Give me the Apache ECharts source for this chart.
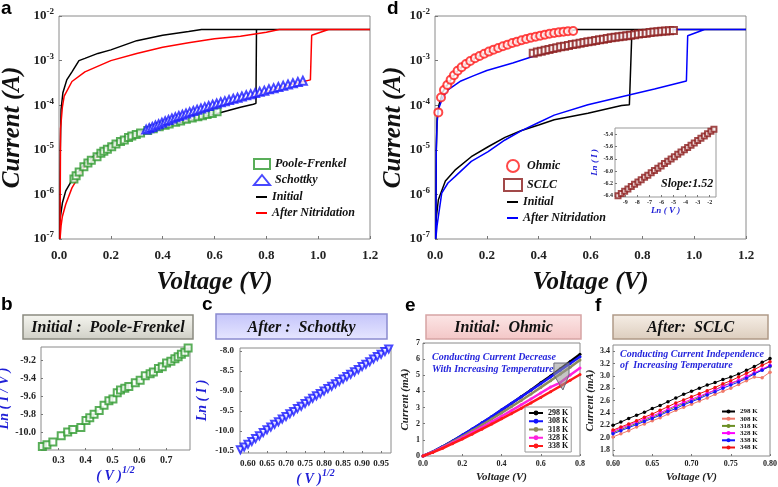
<!DOCTYPE html>
<html><head><meta charset="utf-8">
<script src="https://cdn.jsdelivr.net/npm/echarts@6/dist/echarts.min.js"></script>
<style>html,body{margin:0;padding:0;background:#fff}#c{width:778px;height:487px}</style>
</head><body><div id="c"></div>
<script>
// ================= DATA =================
// Panel a : Initial (black) I-V loop
const initV = [0.003,0.005,0.013,0.026,0.05,0.1,0.15,0.2,0.25,0.3,0.35,0.4,0.45,0.5,0.55,0.6,0.65,0.7,0.75,0.76,0.762,1.2,0.55,0.5,0.4,0.3,0.2,0.15,0.1,0.077,0.05,0.03,0.015,0.008,0.005,0.003];
const initI = [1e-7,3e-7,6.4e-7,1.2e-6,2.1e-6,5e-6,8.5e-6,1.35e-5,1.9e-5,2.4e-5,2.9e-5,3.3e-5,3.9e-5,4.5e-5,5.3e-5,6.3e-5,7.5e-5,9e-5,1.05e-4,1.1e-4,5e-3,5e-3,5e-3,4.5e-3,3.7e-3,2.8e-3,1.74e-3,1.45e-3,1.12e-3,1e-3,5.6e-4,3.7e-4,1.9e-4,8e-5,1e-5,1e-7];
// Panel a : After nitridation (red)
const aAftV = [0.004,0.008,0.013,0.026,0.05,0.1,0.15,0.2,0.3,0.4,0.5,0.6,0.7,0.8,0.9,0.97,0.975,1.04,1.2,0.85,0.8,0.7,0.6,0.5,0.4,0.3,0.2,0.1,0.05,0.02,0.013,0.006,0.004];
const aAftI = [1e-7,2e-7,3.2e-7,6e-7,1.4e-6,4.3e-6,7.2e-6,1.1e-5,2.1e-5,3.5e-5,5.6e-5,9e-5,1.35e-4,2e-4,2.95e-4,3.7e-4,3.7e-3,5e-3,5e-3,5e-3,4.3e-3,3.5e-3,3.1e-3,2.5e-3,2e-3,1.45e-3,1e-3,5.6e-4,3.4e-4,1.6e-4,9e-5,3e-5,1e-7];
// Panel d : Initial (black)
const dInitV = [0.003,0.005,0.013,0.04,0.077,0.14,0.205,0.27,0.334,0.4,0.46,0.59,0.72,0.75,0.756,0.76,1.2,0.55,0.5,0.4,0.3,0.2,0.15,0.1,0.077,0.05,0.03,0.015,0.008,0.005,0.003];
const dInitI = [1e-7,3e-7,7.6e-7,2e-6,3.5e-6,7e-6,1.17e-5,1.9e-5,2.7e-5,3.6e-5,4.7e-5,6.6e-5,9.8e-5,1.02e-4,1.1e-4,5e-3,5e-3,5e-3,4.45e-3,3.55e-3,2.5e-3,1.5e-3,1.1e-3,7e-4,5e-4,3e-4,2e-4,1e-4,5e-5,1e-5,1e-7];
// Panel d : After nitridation (blue)
const dAftV = [0.003,0.008,0.013,0.026,0.05,0.077,0.14,0.205,0.27,0.334,0.4,0.46,0.59,0.72,0.847,0.97,0.975,1.04,1.2,0.9,0.8,0.7,0.6,0.5,0.38,0.3,0.2,0.15,0.1,0.05,0.03,0.013,0.008,0.005,0.003];
const dAftI = [1e-7,2e-7,3.2e-7,1.07e-6,1.8e-6,2.5e-6,5.5e-6,9.1e-6,1.66e-5,2.7e-5,4.1e-5,6e-5,1.02e-4,1.55e-4,2.3e-4,3.5e-4,3.6e-3,5e-3,5e-3,5e-3,4.2e-3,3.3e-3,2.5e-3,1.9e-3,1.25e-3,8.8e-4,6e-4,4.6e-4,3.5e-4,2.2e-4,1.5e-4,8e-5,4e-5,1e-5,1e-7];
// Panel d : Ohmic fit points
const ohmV = [0.0128,0.0231,0.0347,0.0475,0.0603,0.0732,0.0873,0.1027,0.1194,0.1361,0.154,0.172,0.19,0.208,0.226,0.244,0.262,0.28,0.298,0.316,0.334,0.352,0.37,0.388,0.406,0.424,0.442,0.46,0.478,0.496,0.513,0.533];
const ohmI = [6.9e-5,1.49e-4,2.2e-4,2.85e-4,3.7e-4,4.7e-4,5.9e-4,7.1e-4,8.4e-4,9.8e-4,1.13e-3,1.27e-3,1.43e-3,1.59e-3,1.76e-3,1.92e-3,2.09e-3,2.28e-3,2.49e-3,2.66e-3,2.85e-3,3.05e-3,3.27e-3,3.44e-3,3.63e-3,3.82e-3,4.02e-3,4.16e-3,4.3e-3,4.46e-3,4.54e-3,4.61e-3];
// Panel d : SCLC fit points
const sclcV = [0.379,0.395,0.41,0.425,0.44,0.455,0.47,0.485,0.5,0.515,0.53,0.545,0.56,0.575,0.59,0.605,0.62,0.635,0.65,0.665,0.68,0.695,0.71,0.725,0.74,0.755,0.77,0.785,0.8,0.815,0.83,0.845,0.86,0.875,0.89,0.905,0.92];
const sclcI = [1.46e-3,1.55e-3,1.62e-3,1.7e-3,1.78e-3,1.86e-3,1.95e-3,2.04e-3,2.11e-3,2.19e-3,2.29e-3,2.37e-3,2.45e-3,2.54e-3,2.63e-3,2.72e-3,2.82e-3,2.92e-3,3.02e-3,3.13e-3,3.24e-3,3.33e-3,3.42e-3,3.52e-3,3.61e-3,3.72e-3,3.82e-3,3.93e-3,4.03e-3,4.13e-3,4.24e-3,4.35e-3,4.45e-3,4.54e-3,4.62e-3,4.69e-3,4.74e-3];
// Panel d inset : Ln(I) vs Ln(V)
const insetLnV = [-9.60,-9.33,-9.05,-8.78,-8.50,-8.23,-7.95,-7.68,-7.40,-7.13,-6.85,-6.58,-6.30,-6.03,-5.75,-5.48,-5.20,-4.93,-4.65,-4.38,-4.10,-3.83,-3.55,-3.28,-3.00,-2.73,-2.45,-2.18,-1.90,-1.65];
const insetLnI = [-6.40,-6.363,-6.325,-6.289,-6.251,-6.214,-6.176,-6.139,-6.101,-6.065,-6.027,-5.990,-5.952,-5.915,-5.877,-5.841,-5.802,-5.766,-5.728,-5.691,-5.653,-5.616,-5.578,-5.542,-5.504,-5.467,-5.429,-5.392,-5.354,-5.320];
const insetXTicks = [-9,-8,-7,-6,-5,-4,-3,-2];
const insetYTicks = [-6.4,-6.2,-6.0,-5.8,-5.6,-5.4];
// Panel b : Poole-Frenkel  (V^1/2 , ln(I/V))
const pfSqrtV = [0.240,0.257,0.279,0.310,0.334,0.353,0.383,0.402,0.416,0.432,0.451,0.469,0.487,0.502,0.518,0.530,0.546,0.561,0.585,0.603,0.622,0.640,0.652,0.671,0.685,0.701,0.717,0.732,0.744,0.756,0.769,0.781];
const pfLnIV = [-10.16,-10.14,-10.11,-10.04,-10.00,-9.97,-9.95,-9.87,-9.84,-9.80,-9.76,-9.70,-9.65,-9.63,-9.56,-9.53,-9.51,-9.49,-9.45,-9.42,-9.37,-9.35,-9.33,-9.29,-9.27,-9.23,-9.21,-9.18,-9.16,-9.13,-9.11,-9.06];
const bXTicks = [0.3,0.4,0.5,0.6,0.7];
const bYTicks = [-10.0,-9.8,-9.6,-9.4,-9.2];
// Panel c : Schottky (V^1/2 , ln(I))
const schSqrtV = [0.58,0.59,0.60,0.61,0.62,0.63,0.64,0.65,0.66,0.67,0.68,0.69,0.70,0.71,0.72,0.73,0.74,0.75,0.76,0.77,0.78,0.79,0.80,0.81,0.82,0.83,0.84,0.85,0.86,0.87,0.88,0.89,0.90,0.91,0.92,0.93,0.94,0.95,0.96,0.97];
const schLnI = [-10.47,-10.40,-10.33,-10.26,-10.19,-10.12,-10.04,-9.97,-9.90,-9.83,-9.77,-9.70,-9.64,-9.57,-9.51,-9.44,-9.38,-9.31,-9.25,-9.18,-9.12,-9.06,-9.00,-8.94,-8.88,-8.82,-8.76,-8.70,-8.64,-8.58,-8.52,-8.46,-8.39,-8.33,-8.27,-8.20,-8.14,-8.08,-8.01,-7.95];
const cXTicks = [0.60,0.65,0.70,0.75,0.80,0.85,0.90,0.95];
const cYTicks = [-10.5,-10.0,-9.5,-9.0,-8.5,-8.0];
// Panel e : Initial Ohmic, current (mA) vs voltage
const eV = [0,0.05,0.1,0.15,0.2,0.25,0.3,0.35,0.4,0.45,0.5,0.55,0.6,0.65,0.7,0.75,0.8];
const e298 = [0,0.26,0.58,0.92,1.28,1.65,2.04,2.43,2.84,3.25,3.67,4.09,4.53,4.96,5.41,5.85,6.3];
const e308 = [0,0.27,0.59,0.93,1.30,1.67,2.06,2.45,2.86,3.26,3.66,4.07,4.48,4.89,5.31,5.73,6.15];
const e318 = [0,0.25,0.55,0.87,1.21,1.56,1.92,2.29,2.67,3.05,3.44,3.84,4.25,4.66,5.08,5.50,5.95];
const e328 = [0,0.24,0.52,0.82,1.13,1.45,1.78,2.12,2.46,2.81,3.17,3.53,3.90,4.27,4.55,5.02,5.45];
const e338 = [0,0.22,0.48,0.76,1.05,1.35,1.66,1.98,2.30,2.62,2.95,3.29,3.63,3.98,4.33,4.69,5.05];
const eTemps = ['298 K','308 K','318 K','328 K','338 K'];
// Panel f : After SCLC, current (mA) vs voltage
const fV = [0.60,0.61,0.62,0.63,0.64,0.65,0.66,0.67,0.68,0.69,0.70,0.71,0.72,0.73,0.74,0.75,0.76,0.77,0.78,0.79,0.80];
const f298 = [2.20,2.25,2.31,2.36,2.41,2.47,2.52,2.58,2.64,2.70,2.75,2.80,2.85,2.89,2.94,2.98,3.03,3.09,3.15,3.22,3.28];
const f308 = [2.01,2.06,2.11,2.17,2.22,2.27,2.32,2.38,2.44,2.49,2.54,2.59,2.64,2.70,2.75,2.80,2.86,2.92,2.98,2.97,3.06];
const f318 = [2.08,2.13,2.18,2.23,2.28,2.33,2.38,2.44,2.50,2.55,2.60,2.65,2.71,2.77,2.84,2.88,2.92,2.98,3.04,3.10,3.15];
const f328 = [2.10,2.15,2.20,2.25,2.30,2.35,2.40,2.46,2.52,2.57,2.62,2.67,2.72,2.77,2.83,2.88,2.93,2.99,3.05,3.11,3.17];
const f338 = [2.06,2.11,2.16,2.21,2.26,2.31,2.36,2.42,2.47,2.53,2.58,2.63,2.69,2.74,2.80,2.85,2.90,2.96,3.03,3.09,3.16];
const f348 = [2.12,2.17,2.22,2.27,2.33,2.38,2.44,2.50,2.56,2.61,2.66,2.71,2.76,2.81,2.87,2.92,2.98,3.04,3.10,3.17,3.23];
const fTemps = ['298 K','308 K','318 K','328 K','338 K','348 K'];
const fYTicks = [1.8,2.0,2.2,2.4,2.6,2.8,3.0,3.2,3.4];

// ================= CHART =================
const SERIF = "'Liberation Serif','Times New Roman',serif";
const SANS = "'Liberation Sans',Arial,sans-serif";
const chart = echarts.init(document.getElementById('c'));
const pairs = (xs, ys) => xs.map((x, i) => [x, ys[i]]);
const lbl = (size, extra) => Object.assign({fontFamily: SERIF, fontWeight: 'bold', fontSize: size, color: '#222'}, extra || {});
const nameStyle = (size, color, extra) => Object.assign({fontFamily: SERIF, fontWeight: 'bold', fontStyle: 'italic', fontSize: size, color: color}, extra || {});
const tick = {show: true, inside: true, length: 3, lineStyle: {color: '#777'}};
const BLUE_T = '#1f1fd6';

const supFmt = v => '{b|10}{s|' + Math.round(Math.log10(v)) + '}';
const supRich = {b: lbl(13), s: lbl(9, {padding: [0, 0, 8, 0]})};

function logY(gi, gap) {
  return {gridIndex: gi, type: 'log', logBase: 10, min: 1e-7, max: 1e-2,
    axisLine: {show: false}, axisTick: tick, splitLine: {show: false}, minorTick: {show: false},
    axisLabel: {formatter: supFmt, rich: supRich, margin: 5},
    name: 'Current (A)', nameLocation: 'middle', nameGap: gap, nameRotate: 90,
    nameTextStyle: nameStyle(25, '#111')};
}
function mainX(gi) {
  return {gridIndex: gi, type: 'value', min: 0, max: 1.2, interval: 0.2,
    axisLine: {show: false}, axisTick: tick, splitLine: {show: false},
    axisLabel: Object.assign(lbl(13), {formatter: v => v.toFixed(1), margin: 10}),
    name: 'Voltage (V)', nameLocation: 'middle', nameGap: 31, nameTextStyle: nameStyle(25, '#111')};
}
function smallAxis(gi, min, max, ticks, dec, size, name, gap, nameSize, color, margin, extra) {
  return Object.assign({gridIndex: gi, type: 'value', min: min, max: max,
    axisLine: {show: false}, splitLine: {show: false},
    axisTick: Object.assign({}, tick, {length: 2, customValues: ticks}),
    axisLabel: Object.assign(lbl(size), {customValues: ticks, formatter: v => v.toFixed(dec), margin: margin}),
    name: name, nameLocation: 'middle', nameGap: gap, nameTextStyle: nameStyle(nameSize, color)}, extra || {});
}

const gridBase = {show: true, borderColor: '#8a8a8a', borderWidth: 1, backgroundColor: '#fff', containLabel: false, outerBoundsMode: 'none'};
const grids = [
  {left: 59, top: 16, width: 311, height: 223},
  {left: 435, top: 16, width: 311, height: 223},
  {left: 615, top: 128, width: 101, height: 69},
  {left: 41, top: 347, width: 149, height: 103},
  {left: 240, top: 348, width: 151, height: 105},
  {left: 423, top: 343, width: 157, height: 113},
  {left: 613, top: 345, width: 157, height: 111}
].map(g => Object.assign({}, gridBase, g));
grids[2].borderColor = '#999';

const supName = {name: '{m|( V )}{s|1/2}', nameTextStyle: nameStyle(14, BLUE_T, {rich: {m: nameStyle(14, BLUE_T), s: nameStyle(10, BLUE_T, {padding: [0, 0, 10, 0]})}})};
const xAxes = [
  mainX(0), mainX(1),
  smallAxis(2, -9.85, -1.48, insetXTicks, 0, 6, 'Ln ( V )', 9, 9, BLUE_T, 2),
  smallAxis(3, 0.235, 0.788, bXTicks, 1, 10, '', 14, 14, BLUE_T, 5, supName),
  smallAxis(4, 0.579, 0.976, cXTicks, 2, 9, '', 14, 14, BLUE_T, 6, supName),
  {gridIndex: 5, type: 'value', min: 0, max: 0.8, interval: 0.2, axisLine: {show: false}, splitLine: {show: false},
    axisTick: Object.assign({}, tick, {length: 2}), axisLabel: Object.assign(lbl(8), {formatter: v => v.toFixed(1), margin: 4}),
    name: 'Voltage (V)', nameLocation: 'middle', nameGap: 16, nameTextStyle: nameStyle(11, '#222')},
  {gridIndex: 6, type: 'value', min: 0.6, max: 0.8, interval: 0.05, axisLine: {show: false}, splitLine: {show: false},
    axisTick: Object.assign({}, tick, {length: 2}), axisLabel: Object.assign(lbl(8), {formatter: v => v.toFixed(2), margin: 4}),
    name: 'Voltage (V)', nameLocation: 'middle', nameGap: 16, nameTextStyle: nameStyle(11, '#222')}
];
const yAxes = [
  logY(0, 34), logY(1, 27),
  smallAxis(2, -6.42, -5.3, insetYTicks, 1, 6, 'Ln ( I )', 12, 9, BLUE_T, 2),
  smallAxis(3, -10.2, -9.05, bYTicks, 1, 10, 'Ln ( I / V )', 27, 14, BLUE_T, 5),
  smallAxis(4, -10.55, -7.925, cYTicks, 1, 9, 'Ln ( I )', 31, 14, BLUE_T, 6),
  {gridIndex: 5, type: 'value', min: 0, max: 7, interval: 1, axisLine: {show: false}, splitLine: {show: false},
    axisTick: Object.assign({}, tick, {length: 2}), axisLabel: Object.assign(lbl(8), {margin: 3}),
    name: 'Current (mA)', nameLocation: 'middle', nameGap: 12, nameTextStyle: nameStyle(11, '#222')},
  smallAxis(6, 1.7, 3.5, fYTicks, 1, 8, 'Current (mA)', 15, 11, '#222', 3)
];

const lineS = (name, gi, xs, ys, color) => ({name: name, type: 'line', xAxisIndex: gi, yAxisIndex: gi, data: pairs(xs, ys),
  symbol: 'none', showSymbol: false, lineStyle: {color: color, width: 1.5}, itemStyle: {color: color}, z: 2});
const scatS = (name, gi, data, symbol, size, color, extra) => Object.assign({name: name, type: 'scatter', xAxisIndex: gi, yAxisIndex: gi, data: data,
  symbol: symbol, symbolSize: size, clip: false, itemStyle: {color: color, borderColor: color, borderWidth: 1.2}, z: 3}, extra || {});

const series = [];
// panel a
series.push(lineS('Initial', 0, initV, initI, '#000'));
series.push(lineS('After Nitridation', 0, aAftV, aAftI, '#ff0000'));
series.push(scatS('Poole-Frenkel', 0, pfSqrtV.map((s, i) => [s * s, s * s * Math.exp(pfLnIV[i])]), 'emptyRect', 7, '#2f9a2f'));
series.push(scatS('Schottky', 0, schSqrtV.map((s, i) => [s * s, Math.exp(schLnI[i])]), 'emptyTriangle', 8, '#1a1aff'));
// panel d
series.push(lineS('Initial ', 1, dInitV, dInitI, '#000'));
series.push(lineS('After Nitridation ', 1, dAftV, dAftI, '#0000ff'));
series.push(scatS('Ohmic', 1, pairs(ohmV, ohmI), 'emptyCircle', 8, '#ff1a1a'));
series.push(scatS('SCLC', 1, pairs(sclcV, sclcI), 'emptyRect', 7, '#8b1c1c'));
series.push(scatS('inset', 2, pairs(insetLnV, insetLnI), 'emptyRect', 5, '#8b1c1c'));
// panel b, c
series.push(scatS('pf', 3, pairs(pfSqrtV, pfLnIV), 'emptyRect', 7, '#2f9a2f'));
series.push(scatS('sch', 4, pairs(schSqrtV, schLnI), 'emptyTriangle', 7, '#1a1aff', {symbolRotate: 180}));
// panel e
const eCols = ['#000000', '#1414ff', '#8c8c5a', '#ff22dd', '#ff1a1a'];
[e298, e308, e318, e328, e338].forEach((arr, k) => series.push({name: eTemps[k], type: 'line', xAxisIndex: 5, yAxisIndex: 5,
  data: pairs(eV, arr), symbol: 'circle', symbolSize: 3, showSymbol: true, lineStyle: {color: eCols[k], width: 2.5}, itemStyle: {color: eCols[k]}, z: 2 + k * 0.01}));
// e arrow annotation
series.push({type: 'custom', name: 'arrow', xAxisIndex: 5, yAxisIndex: 5, data: [[0]], silent: true, z: 4,
  renderItem: (p, api) => ({type: 'polygon', shape: {points: [[0.667, 5.76], [0.744, 5.76], [0.744, 5.02], [0.713, 4.09], [0.667, 5.02]].map(q => api.coord(q))},
    style: {fill: 'rgba(150,150,150,0.55)', stroke: '#6a6a7a', lineWidth: 1}})});
// panel f
const fCols = ['#000000', '#f07a6a', '#6b8e23', '#ff00ff', '#1414ff', '#ee1111'];
[f298, f308, f318, f328, f338, f348].forEach((arr, k) => series.push({name: fTemps[k] + ' ', type: 'line', xAxisIndex: 6, yAxisIndex: 6,
  data: pairs(fV, arr), symbol: 'circle', symbolSize: 3.5, showSymbol: true, lineStyle: {color: fCols[k], width: 1}, itemStyle: {color: fCols[k]}, z: 2}));

const legTxt = (size, lh, extra) => Object.assign({fontFamily: SERIF, fontWeight: 'bold', fontSize: size, lineHeight: lh, color: '#111'}, extra || {});
const itl = {fontStyle: 'italic'};
const legends = [
  {data: ['Poole-Frenkel', 'Schottky'], orient: 'vertical', left: 253, top: 158, padding: 0,
    itemWidth: 16, itemHeight: 10, itemGap: 4, selectedMode: false, textStyle: legTxt(12, 12, itl)},
  {data: ['Initial', 'After Nitridation'], icon: 'rect', orient: 'vertical', left: 256, top: 191, padding: 0,
    itemWidth: 11, itemHeight: 2, itemGap: 4, selectedMode: false, textStyle: legTxt(12, 12, itl)},
  {data: ['Ohmic', 'SCLC'], orient: 'vertical', left: 503, top: 159, padding: 0,
    itemWidth: 18, itemHeight: 12, itemGap: 5, selectedMode: false, textStyle: legTxt(12, 12, itl)},
  {data: ['Initial ', 'After Nitridation '], icon: 'rect', orient: 'vertical', left: 507, top: 196, padding: 0,
    itemWidth: 11, itemHeight: 2, itemGap: 4, selectedMode: false, textStyle: legTxt(12, 12, itl)},
  {data: eTemps, orient: 'vertical', left: 525, top: 407, padding: [2, 3, 2, 3], borderColor: '#999', borderWidth: 1,
    itemWidth: 14, itemHeight: 6, itemGap: 0.25, selectedMode: false, textStyle: legTxt(8, 8)},
  {data: fTemps.map(t => t + ' '), orient: 'vertical', left: 721, top: 408, padding: 0,
    itemWidth: 13, itemHeight: 5, itemGap: 0.2, selectedMode: false, textStyle: legTxt(7, 6)}
];

const grad = (a, b) => new echarts.graphic.LinearGradient(0, 0, 0, 1, [{offset: 0, color: a}, {offset: 1, color: b}]);
const titleBox = (x, y, w, h, c1, c2, border, text) => [
  {type: 'rect', z: 100, shape: {x: x, y: y, width: w, height: h}, style: {fill: grad(c1, c2), stroke: border, lineWidth: 1.5}},
  {type: 'text', z: 101, x: x + w / 2, y: y + h / 2 + 1, style: {text: text, textAlign: 'center', textVerticalAlign: 'middle', font: 'italic bold 16px ' + SERIF, fill: '#111'}}
];
const letter = (t, x, y) => ({type: 'text', z: 101, x: x, y: y, style: {text: t, textAlign: 'left', textVerticalAlign: 'middle', font: 'bold 19px ' + SANS, fill: '#000'}});
const note = (t, x, y, size) => ({type: 'text', z: 101, x: x, y: y, style: {text: t, textAlign: 'left', textVerticalAlign: 'middle', font: 'italic bold ' + size + 'px ' + SERIF, fill: '#2626dc'}});

const graphic = [
  letter('a', 1, 9), letter('d', 387, 9), letter('b', 1, 305), letter('c', 202, 305), letter('e', 405, 306), letter('f', 595, 306),
  ...titleBox(23, 315, 170, 24, '#f6f6f0', '#cfcfc6', '#8a8a80', 'Initial :  Poole-Frenkel'),
  ...titleBox(216, 314, 171, 25, '#c4c4fa', '#e6e6ff', '#8a8ad0', 'After :  Schottky'),
  ...titleBox(426, 315, 155, 24, '#fce6e6', '#f3c6c6', '#d6a4a4', 'Initial:  Ohmic'),
  ...titleBox(613, 315, 155, 24, '#f6eee6', '#dccdbd', '#b09a88', 'After:  SCLC'),
  {type: 'text', z: 101, x: 661, y: 184, style: {text: 'Slope:1.52', textAlign: 'left', textVerticalAlign: 'middle', font: 'italic bold 12px ' + SERIF, fill: '#111'}},
  note('Conducting Current Decrease', 432, 357, 10), note('With Increasing Temperature', 432, 369, 10),
  note('Conducting Current Independence', 620, 354, 10), note('of  Increasing Temperature', 620, 365, 10)
];

chart.setOption({
  animation: false,
  backgroundColor: '#fff',
  grid: grids, xAxis: xAxes, yAxis: yAxes,
  legend: legends, series: series, graphic: graphic
});
</script></body></html>
